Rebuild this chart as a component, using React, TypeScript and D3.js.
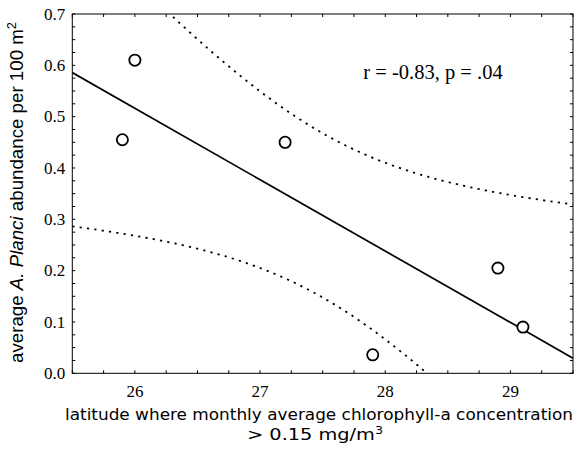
import React from "react";
import * as d3 from "d3";

const latitude = [25.9, 26.0, 27.2, 27.9, 28.9, 29.1];
const abundance = [0.455, 0.61, 0.45, 0.036, 0.205, 0.09];
const xTickLabels = [26, 27, 28, 29];
const yTickLabels = [0, 0.1, 0.2, 0.3, 0.4, 0.5, 0.6, 0.7];
const statText = "r = -0.83, p = .04";
const tCrit = 2.776; // t(0.975, df=4)

const W = 577, H = 455;
const L = 72.3, R = 573, T = 14, B = 373.3;

export default function App() {
  const x = d3.scaleLinear().domain([25.5, 29.5]).range([L, R]);
  const y = d3.scaleLinear().domain([0, 0.7]).range([B, T]);

  const n = latitude.length;
  const mx = d3.mean(latitude)!;
  const my = d3.mean(abundance)!;
  let sxx = 0, sxy = 0, syy = 0;
  for (let i = 0; i < n; i++) {
    sxx += (latitude[i] - mx) ** 2;
    sxy += (latitude[i] - mx) * (abundance[i] - my);
    syy += (abundance[i] - my) ** 2;
  }
  const slope = sxy / sxx;
  const icpt = my - slope * mx;
  const s = Math.sqrt((syy - (sxy * sxy) / sxx) / (n - 2));
  const xs = d3.range(0, 201).map((i) => 25.5 + (4 * i) / 200);
  const fit = (v: number) => icpt + slope * v;
  const hw = (v: number) => tCrit * s * Math.sqrt(1 / n + (v - mx) ** 2 / sxx);

  const line = d3
    .line<[number, number]>()
    .x((d) => x(d[0]))
    .y((d) => y(d[1]));

  const upper = line(xs.map((v) => [v, fit(v) + hw(v)] as [number, number]))!;
  const lower = line(xs.map((v) => [v, fit(v) - hw(v)] as [number, number]))!;
  const reg = line([[25.5, fit(25.5)], [29.5, fit(29.5)]])!;

  const xMinor = d3.range(25.5, 29.5001, 0.25);
  const yMinor = d3.range(0, 0.70001, 0.025);
  const tl = 3;

  return (
    <svg width={W} height={H} style={{ position: "absolute", left: 0, top: 0, background: "#fff" }}>
      <defs>
        <clipPath id="plot">
          <rect x={L} y={T} width={R - L} height={B - T} />
        </clipPath>
      </defs>
      <rect x={0} y={0} width={W} height={H} fill="#fff" />
      <g stroke="#000" strokeWidth={1}>
        {xMinor.map((v, i) => (
          <g key={"xt" + i}>
            <line x1={x(v)} x2={x(v)} y1={B} y2={B - tl} />
            <line x1={x(v)} x2={x(v)} y1={T} y2={T + tl} />
          </g>
        ))}
        {yMinor.map((v, i) => (
          <g key={"yt" + i}>
            <line x1={L} x2={L + tl} y1={y(v)} y2={y(v)} />
            <line x1={R} x2={R - tl} y1={y(v)} y2={y(v)} />
          </g>
        ))}
      </g>
      <g clipPath="url(#plot)" fill="none" stroke="#000">
        <path d={reg} strokeWidth={1.7} />
        <path d={upper} strokeWidth={1.8} strokeDasharray="2.2 5.2" />
        <path d={lower} strokeWidth={1.8} strokeDasharray="2.2 5.2" />
      </g>
      <rect x={L} y={T} width={R - L} height={B - T} fill="none" stroke="#000" strokeWidth={1} />
      {latitude.map((v, i) => (
        <circle key={"p" + i} cx={x(v)} cy={y(abundance[i])} r={5.6} fill="#fff" stroke="#000" strokeWidth={1.8} />
      ))}
      <g fontFamily="'Liberation Serif', 'Times New Roman', serif" fontSize={17} fill="#000">
        {yTickLabels.map((v) => (
          <text key={"yl" + v} x={L - 7} y={y(v)} dy="0.33em" textAnchor="end">
            {v.toFixed(1)}
          </text>
        ))}
        {xTickLabels.map((v) => (
          <text key={"xl" + v} x={x(v)} y={B + 24} textAnchor="middle">
            {v}
          </text>
        ))}
        <text x={433} y={79} textAnchor="middle" fontSize={20.5}>
          {statText}
        </text>
      </g>
      <g fontFamily="'DejaVu Sans', 'Liberation Sans', sans-serif" fontSize={16} fill="#000">
        <text x={65} y={420} textLength={508} lengthAdjust="spacingAndGlyphs">
          latitude where monthly average chlorophyll-a concentration
        </text>
        <text x={247} y={439.5} textLength={136} lengthAdjust="spacingAndGlyphs">
          {"> 0.15 mg/m"}
          <tspan fontSize={10.5} dy={-6}>3</tspan>
        </text>
      </g>
      <g fontFamily="'Liberation Sans', Arial, sans-serif" fontSize={17.5} fill="#000">
        <text
          transform={`translate(23, 363) rotate(-90)`}
          textLength={341}
          lengthAdjust="spacingAndGlyphs"
        >
          {"average "}
          <tspan fontStyle="italic">A. Planci</tspan>
          {" abundance per 100 m"}
          <tspan fontSize={12} dy={-7}>2</tspan>
        </text>
      </g>
    </svg>
  );
}
